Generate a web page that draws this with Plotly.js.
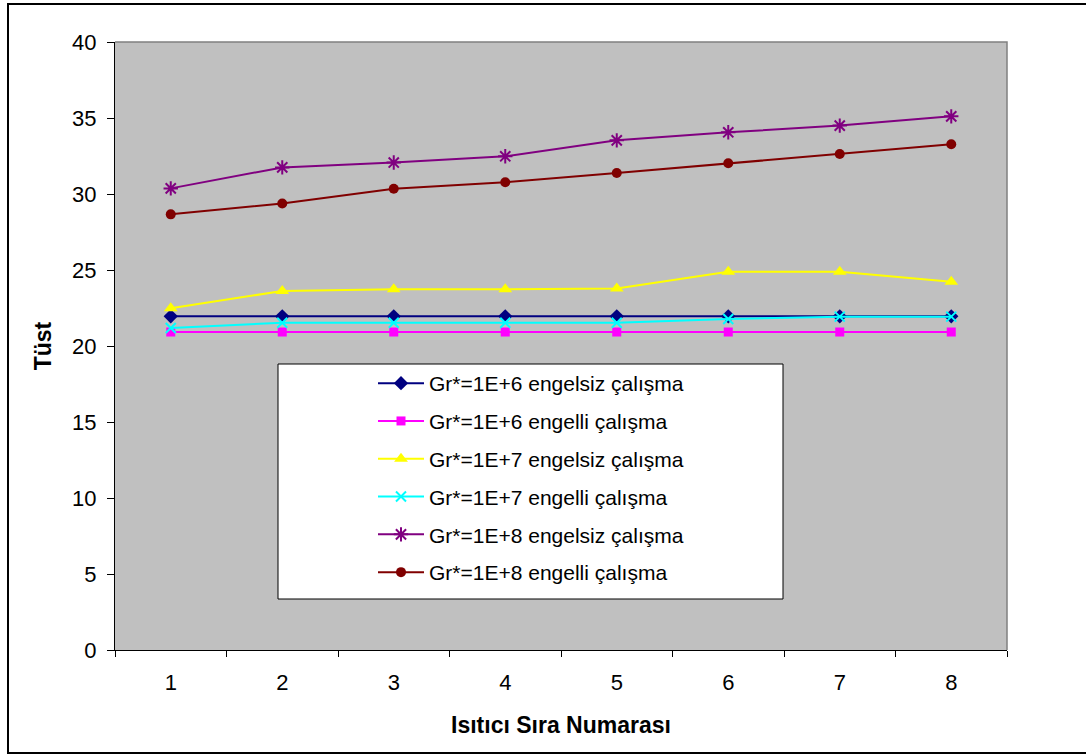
<!DOCTYPE html>
<html>
<head>
<meta charset="utf-8">
<script src="https://cdn.plot.ly/plotly-3.0.1.min.js"></script>
<style>
  html, body { margin: 0; padding: 0; background: #ffffff; }
  #chart { width: 1086px; height: 754px; }
</style>
</head>
<body>
<div id="chart"></div>
<script>
// ---- data ----
const categories = ["1", "2", "3", "4", "5", "6", "7", "8"];
const seriesNames = [
  "Gr*=1E+6 engelsiz çalışma",
  "Gr*=1E+6 engelli çalışma",
  "Gr*=1E+7 engelsiz çalışma",
  "Gr*=1E+7 engelli çalışma",
  "Gr*=1E+8 engelsiz çalışma",
  "Gr*=1E+8 engelli çalışma"
];
const gr6Engelsiz = [21.95, 21.95, 21.95, 21.95, 21.95, 21.95, 21.95, 21.95];
const gr6Engelli  = [20.92, 20.92, 20.92, 20.92, 20.92, 20.92, 20.92, 20.92];
const gr7Engelsiz = [22.48, 23.62, 23.73, 23.73, 23.79, 24.89, 24.89, 24.23];
const gr7Engelli  = [21.18, 21.53, 21.53, 21.53, 21.53, 21.78, 21.93, 21.93];
const gr8Engelsiz = [30.37, 31.75, 32.07, 32.48, 33.53, 34.06, 34.50, 35.11];
const gr8Engelli  = [28.66, 29.38, 30.35, 30.77, 31.38, 32.02, 32.63, 33.27];
const yTickVals = [0, 5, 10, 15, 20, 25, 30, 35, 40];
const xTitle = "Isıtıcı Sıra Numarası";
const yTitle = "Tüst";

// ---- styles ----
const FONT = "Liberation Sans, Arial, sans-serif";
const styles = [
  { color: "#000080", symbol: "diamond", size: 11 },
  { color: "#FF00FF", symbol: "square", size: 9 },
  { color: "#FFFF00", symbol: "triangle-up", size: 12 },
  { color: "#00FFFF", symbol: "x-thin-open", size: 10, open: true },
  { color: "#800080", symbol: "asterisk-open", size: 12, open: true },
  { color: "#800000", symbol: "circle", size: 10 }
];
const values = [gr6Engelsiz, gr6Engelli, gr7Engelsiz, gr7Engelli, gr8Engelsiz, gr8Engelli];

const traces = values.map((v, i) => {
  const s = styles[i];
  const marker = { symbol: s.symbol, size: s.size, color: s.color };
  if (s.open) marker.line = { color: s.color, width: 2 };
  else marker.line = { width: 0 };
  return {
    type: "scatter",
    mode: "lines+markers",
    name: seriesNames[i],
    legendgroup: "g" + i,
    x: categories,
    y: v,
    line: { color: s.color, width: 2 },
    marker: marker
  };
});

// plot area px: left 115, right 1007, top 42, bottom 650
const L = 115, R = 1007, T = 42, B = 650;
const W = R - L, H = B - T;
const px = x => (x - L) / W;
const py = y => (B - y) / H;

const layout = {
  width: 1086,
  height: 754,
  margin: { l: L, r: 1086 - R, t: T, b: 754 - B, pad: 0 },
  paper_bgcolor: "#ffffff",
  plot_bgcolor: "#C0C0C0",
  font: { family: FONT, size: 20, color: "#000000" },
  showlegend: true,
  legend: {
    x: px(373), y: py(363), xanchor: "left", yanchor: "top",
    bgcolor: "rgba(0,0,0,0)", borderwidth: 0,
    font: { family: FONT, size: 21, color: "#000000" },
    itemwidth: 46,
    traceorder: "grouped",
    tracegroupgap: 7.5
  },
  xaxis: {
    type: "category",
    tickson: "boundaries",
    ticks: "outside",
    ticklen: 6,
    tickcolor: "#000000",
    showline: true,
    linecolor: "#000000",
    linewidth: 1,
    showgrid: false,
    zeroline: false,
    range: [-0.5, 7.5],
    tickfont: { family: FONT, size: 22 },
    ticklabelstandoff: 13,
    title: { text: xTitle, font: { family: FONT, size: 23, weight: "bold" }, standoff: 22 },
    automargin: false
  },
  yaxis: {
    range: [0, 40],
    tickvals: yTickVals,
    ticks: "outside",
    ticklen: 7,
    tickcolor: "#000000",
    showline: true,
    linecolor: "#000000",
    linewidth: 1,
    showgrid: false,
    zeroline: false,
    tickfont: { family: FONT, size: 22 },
    ticklabelstandoff: 6,
    title: { text: yTitle, font: { family: FONT, size: 23, weight: "bold" }, standoff: 14 },
    automargin: false
  },
  shapes: [
    // plot area top & right border
    { type: "path", xref: "paper", yref: "paper", layer: "above",
      path: "M0,1 L1,1 L1,0", line: { color: "#808080", width: 1.5 } },
    // legend box
    { type: "rect", xref: "paper", yref: "paper", layer: "above",
      x0: px(278), x1: px(783), y0: py(599), y1: py(364),
      fillcolor: "#ffffff", line: { color: "#000000", width: 1 } },
    // outer chart border
    { type: "rect", xref: "paper", yref: "paper", layer: "above",
      x0: px(8), x1: px(1095), y0: py(753), y1: py(4),
      fillcolor: "rgba(0,0,0,0)", line: { color: "#000000", width: 2 } }
  ]
};

Plotly.newPlot("chart", traces, layout, { displayModeBar: false, staticPlot: true });
</script>
</body>
</html>
